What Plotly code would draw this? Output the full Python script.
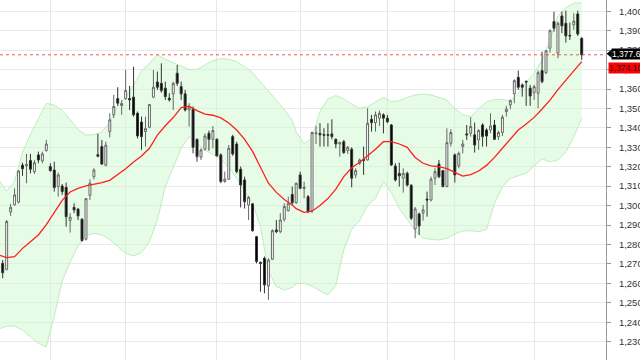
import plotly.graph_objects as go

# ---- candle data ----
opens = [1270.3,1267.2,1296.7,1300.4,1301.8,1320.8,1320.5,1323.2,1317.5,1326.1,
         1323.0,1328.3,1320.1,1318.3,1309.8,1310.1,1309.4,1292.3,1299.1,1298.2,
         1293.0,1282.7,1305.3,1314.9,1326.2,1330.4,1320.8,1338.1,1346.7,1355.1,
         1351.5,1355.1,1355.1,1355.8,1347.5,1343.0,1338.1,1340.3,1355.8,1363.6,
         1362.9,1360.4,1355.3,1357.5,1368.1,1361.2,1357.5,1349.2,1349.6,1334.1,
         1324.9,1329.0,1337.2,1334.1,1334.1,1326.1,1312.4,1313.6,1335.5,1331.7,
         1318.7,1313.2,1300.3,1300.9,1284.0,1270.8,1272.9,1258.7,1272.4,1287.5,
         1286.6,1293.0,1297.4,1305.7,1301.5,1315.8,1308.8,1304.6,1297.4,1337.0,
         1337.2,1336.6,1336.5,1336.9,1334.1,1331.7,1332.9,1328.3,1329.0,1315.8,
         1321.8,1323.8,1323.5,1344.4,1342.7,1345.0,1346.7,1345.0,1341.5,1320.4,
         1316.6,1314.1,1316.6,1310.4,1288.0,1295.7,1296.1,1303.4,1302.9,1314.1,
         1321.4,1318.0,1309.8,1332.1,1326.1,1320.4,1330.4,1336.9,1337.2,1336.4,
         1333.8,1341.5,1338.9,1338.9,1341.5,1335.5,1337.6,1348.4,1351.8,1357.5,
         1366.0,1362.1,1364.0,1360.4,1358.1,1357.8,1369.5,1368.4,1381.0,1394.7,
         1378.4,1397.6,1393.8,1387.6,1393.0,1398.6,1386.1]
highs = [1272.0,1292.6,1300.9,1308.9,1318.3,1322.1,1326.6,1326.6,1323.5,1327.8,
         1327.8,1333.8,1321.8,1322.6,1317.0,1311.1,1311.8,1296.1,1301.2,1298.7,
         1293.5,1303.9,1313.5,1319.2,1336.9,1333.8,1332.9,1347.5,1357.0,1360.9,
         1354.4,1369.8,1361.6,1371.5,1348.4,1345.8,1345.8,1352.3,1369.8,1369.0,
         1373.2,1363.8,1357.8,1363.8,1372.4,1363.8,1359.5,1352.7,1351.0,1334.6,
         1329.5,1337.2,1338.6,1341.0,1334.6,1326.9,1317.5,1331.2,1336.4,1332.9,
         1320.1,1314.9,1305.0,1301.2,1284.4,1271.2,1273.8,1272.9,1287.8,1292.6,
         1296.1,1301.2,1304.6,1309.8,1311.8,1317.5,1312.3,1305.5,1338.1,1341.0,
         1342.4,1339.8,1342.4,1344.4,1334.6,1332.9,1333.8,1330.7,1330.0,1319.2,
         1324.2,1330.4,1350.1,1346.7,1348.4,1348.9,1347.5,1346.7,1342.0,1321.8,
         1322.1,1319.2,1317.5,1311.1,1299.3,1296.4,1300.4,1307.2,1314.9,1319.2,
         1323.5,1318.3,1339.8,1339.3,1326.9,1327.8,1333.8,1341.5,1345.5,1342.7,
         1339.3,1342.4,1339.8,1347.5,1344.1,1338.6,1346.7,1351.3,1354.7,1365.0,
         1369.5,1362.9,1364.2,1362.1,1362.1,1369.5,1379.2,1380.1,1390.7,1399.8,
         1394.7,1399.8,1400.3,1394.2,1399.0,1400.3,1386.6]
lows = [1262.6,1266.6,1294.7,1300.1,1301.1,1315.3,1311.5,1316.6,1316.3,1321.8,
        1321.8,1327.8,1317.5,1307.2,1304.6,1305.5,1289.2,1286.1,1296.1,1292.6,
        1281.5,1282.0,1302.9,1313.5,1324.9,1320.9,1320.1,1335.1,1345.0,1351.3,
        1346.7,1354.4,1349.2,1345.8,1334.6,1328.7,1330.4,1339.8,1355.3,1359.5,
        1358.1,1354.4,1353.5,1349.2,1361.6,1354.4,1348.4,1340.7,1326.9,1322.6,
        1323.5,1328.3,1328.3,1329.5,1325.2,1311.5,1311.8,1313.2,1325.6,1316.6,
        1299.1,1298.5,1292.6,1286.6,1270.3,1255.7,1254.9,1251.5,1272.0,1285.8,
        1285.8,1291.8,1296.9,1300.3,1300.9,1308.4,1303.8,1296.1,1296.1,1331.7,
        1330.4,1330.4,1330.4,1334.1,1329.5,1325.2,1326.6,1326.6,1309.4,1314.1,
        1320.9,1315.8,1323.2,1338.1,1338.1,1341.0,1337.2,1342.4,1320.4,1312.4,
        1309.8,1306.7,1309.8,1292.6,1283.2,1284.9,1292.3,1294.3,1302.1,1310.6,
        1314.1,1309.4,1309.4,1330.4,1311.8,1319.2,1326.9,1333.8,1335.5,1327.3,
        1328.7,1330.4,1330.4,1337.2,1333.8,1333.8,1335.8,1345.8,1349.6,1352.7,
        1359.5,1356.1,1351.3,1351.3,1354.4,1350.1,1362.9,1367.7,1378.7,1389.5,
        1375.8,1388.7,1383.9,1385.2,1390.4,1387.3,1375.0]
closes = [1265.5,1291.8,1299.1,1305.5,1317.8,1319.0,1321.1,1318.7,1322.1,1323.5,
          1326.6,1331.7,1318.0,1309.3,1315.8,1307.2,1294.3,1294.0,1297.8,1294.7,
          1282.0,1303.6,1311.5,1318.3,1325.4,1321.4,1331.1,1344.1,1351.0,1352.7,
          1352.5,1359.2,1354.4,1346.7,1335.8,1335.5,1339.6,1352.0,1360.9,1360.9,
          1359.2,1356.1,1354.4,1362.9,1362.9,1357.5,1349.2,1350.6,1330.0,1325.2,
          1328.7,1335.8,1334.1,1338.6,1325.6,1312.4,1313.6,1329.5,1326.6,1317.5,
          1310.6,1302.0,1304.3,1287.1,1271.2,1270.3,1259.2,1272.0,1287.1,1286.6,
          1292.6,1299.5,1301.2,1301.5,1311.5,1308.9,1309.4,1296.9,1337.6,1337.4,
          1336.4,1336.2,1336.2,1335.5,1331.7,1332.4,1327.3,1330.0,1314.1,1318.0,
          1323.5,1323.2,1342.4,1342.7,1346.7,1347.5,1345.0,1343.2,1320.9,1313.2,
          1315.3,1316.6,1310.6,1293.5,1298.3,1289.5,1297.8,1302.9,1313.6,1317.5,
          1314.9,1309.8,1332.4,1337.6,1315.8,1326.9,1331.7,1336.4,1340.7,1331.2,
          1338.6,1335.5,1335.8,1341.0,1334.1,1337.6,1345.5,1349.6,1354.0,1364.3,
          1360.9,1360.9,1363.6,1356.4,1361.2,1368.4,1363.8,1379.7,1390.0,1391.3,
          1393.8,1392.5,1387.3,1387.3,1394.9,1388.3,1377.6]
days = list(range(len(opens)))

# ---- indicator readings (moving average and its bands) at sampled candles ----
band_days = list(range(-1, 74, 2)) + list(range(74, 147, 2))
ma = [1274.6,1273.2,1273.7,1278.0,1281.4,1284.9,1290.2,1296.7,1302.7,1307.0,
      1308.9,1310.1,1310.9,1311.8,1313.0,1315.8,1319.0,1322.4,1325.5,1329.5,
      1336.3,1341.1,1345.3,1350.4,1351.1,1348.9,1347.1,1346.5,1345.1,1342.5,
      1338.9,1334.1,1327.9,1319.7,1311.5,1306.8,1303.1,1300.3,1298.4,1296.5,
      1297.1,1300.1,1303.6,1308.5,1314.9,1319.5,1322.3,1325.7,1329.0,1332.9,
      1332.9,1331.7,1330.0,1324.8,1321.8,1320.4,1320.0,1319.0,1317.0,1315.2,
      1315.9,1317.8,1320.7,1324.8,1329.5,1334.3,1338.9,1342.0,1345.4,1349.7,
      1354.3,1359.7,1364.3,1369.3,1374.1]
upper = [1313.2,1307.5,1312.7,1327.4,1336.7,1344.9,1352.6,1351.8,1349.0,1344.2,
         1339.3,1336.3,1336.5,1337.9,1343.0,1351.3,1355.9,1361.9,1369.3,1373.2,
         1377.7,1375.3,1373.4,1371.5,1370.0,1370.1,1372.5,1374.6,1375.6,1375.3,
         1374.1,1371.5,1368.4,1363.8,1359.1,1354.2,1349.5,1343.9,1337.9,1331.9,
         1334.6,1348.5,1354.9,1356.6,1354.9,1352.3,1350.1,1350.9,1353.5,1355.7,
         1353.5,1354.0,1355.7,1356.9,1357.4,1356.9,1355.7,1354.3,1349.9,1346.8,
         1345.8,1349.9,1353.3,1354.5,1354.7,1353.7,1357.8,1363.4,1368.2,1374.6,
         1385.2,1397.6,1401.9,1404.1,1404.4]
lower = [1236.5,1238.0,1238.0,1236.0,1232.4,1229.1,1227.4,1242.9,1261.2,1271.0,
         1279.2,1284.5,1285.7,1284.9,1282.5,1278.9,1275.4,1274.1,1275.8,1281.4,
         1292.6,1309.7,1320.0,1329.5,1335.5,1332.0,1328.6,1326.4,1323.8,1320.0,
         1314.0,1307.2,1301.2,1289.2,1266.0,1258.3,1256.6,1257.9,1259.7,1260.0,
         1258.6,1256.2,1254.0,1259.0,1277.2,1287.8,1292.3,1300.3,1303.6,1312.3,
         1306.7,1298.6,1292.6,1287.1,1283.3,1282.6,1282.3,1283.2,1285.4,1286.9,
         1287.1,1286.6,1287.8,1301.2,1309.7,1314.0,1315.4,1316.6,1320.4,1324.0,
         1322.6,1323.5,1327.6,1335.5,1344.9]

# month boundaries (candle index) used for vertical grid lines
month_starts = [12, 31, 54, 75, 97, 114, 134]
year_start = 97

x_range = [-0.68, 152.12]
y_range = [1220.55, 1405.8]
font_family = "Liberation Sans, Arial, sans-serif"

fig = go.Figure()

# band (main axes, drawn below candles)
fig.add_trace(go.Scatter(x=band_days, y=upper, mode="lines",
                         line=dict(color="#bdeebd", width=1), hoverinfo="skip"))
fig.add_trace(go.Scatter(x=band_days, y=lower, mode="lines", fill="tonexty",
                         fillcolor="rgba(208,250,208,0.5)",
                         line=dict(color="#bdeebd", width=1), hoverinfo="skip"))

# candles on overlay axes so they are drawn above the band
fig.add_trace(go.Candlestick(
    x=days, open=opens, high=highs, low=lows, close=closes,
    xaxis="x2", yaxis="y2", whiskerwidth=0,
    increasing=dict(line=dict(color="#666666", width=1), fillcolor="white"),
    decreasing=dict(line=dict(color="#333333", width=1), fillcolor="black"),
))
fig.add_trace(go.Scatter(x=band_days, y=ma, mode="lines", xaxis="x2", yaxis="y2",
                         line=dict(color="#ff1f1f", width=1.3), hoverinfo="skip"))

last_close = closes[-1]
last_ma = ma[-1]
px_per_unit = 360 / (y_range[1] - y_range[0])

shapes = [
    dict(type="line", xref="x", yref="paper", x0=year_start, x1=year_start, y0=0, y1=1,
         line=dict(color="#d2d2d2", width=1), layer="below"),
    dict(type="line", xref="paper", yref="y", x0=0, x1=1, y0=last_close, y1=last_close,
         line=dict(color="rgba(255,40,40,0.8)", width=1, dash="dot"), layer="above"),
    dict(type="path", xref="paper", yref="y",
         path=f"M 1.001,{last_close + 1/px_per_unit} L 1.0095,{last_close + 5.2/px_per_unit} "
              f"L 1.0095,{last_close - 3.2/px_per_unit} Z",
         fillcolor="black", line=dict(width=0)),
]

annotations = [
    dict(xref="paper", x=1, xanchor="left", xshift=5, yref="y", y=last_close, yshift=1,
         yanchor="middle", text=f"{last_close:,.2f}", showarrow=False,
         bgcolor="black", borderpad=0,
         font=dict(family=font_family, size=8.5, color="white")),
    dict(xref="paper", x=1, xanchor="left", xshift=2, yref="y", y=last_ma, yshift=-6,
         yanchor="middle", text=f"{last_ma:,.2f}", showarrow=False,
         bgcolor="#ff0000", borderpad=0,
         font=dict(family=font_family, size=8.5, color="#1a1a1a")),
]

fig.update_layout(
    width=640, height=360,
    margin=dict(l=0, r=34, t=0, b=0, autoexpand=False),
    paper_bgcolor="white", plot_bgcolor="white",
    showlegend=False,
    xaxis=dict(range=x_range, tickvals=month_starts, showticklabels=False,
               showgrid=True, gridcolor="#e6e6e6", gridwidth=1, zeroline=False,
               ticks="", automargin=False),
    yaxis=dict(side="right", range=y_range, tick0=1230, dtick=10,
               tickformat=",.0f", showgrid=True, gridcolor="#e9e9e9", gridwidth=1,
               zeroline=False, showline=True, linecolor="#999999", linewidth=1,
               ticks="outside", ticklen=4, tickcolor="#999999",
               ticklabelstandoff=6, automargin=False,
               tickfont=dict(family=font_family, size=9.5, color="#333333")),
    xaxis2=dict(overlaying="x", range=x_range, visible=False,
                rangeslider=dict(visible=False)),
    yaxis2=dict(overlaying="y", range=y_range, visible=False),
    shapes=shapes,
    annotations=annotations,
)

fig.write_html("out.html")
